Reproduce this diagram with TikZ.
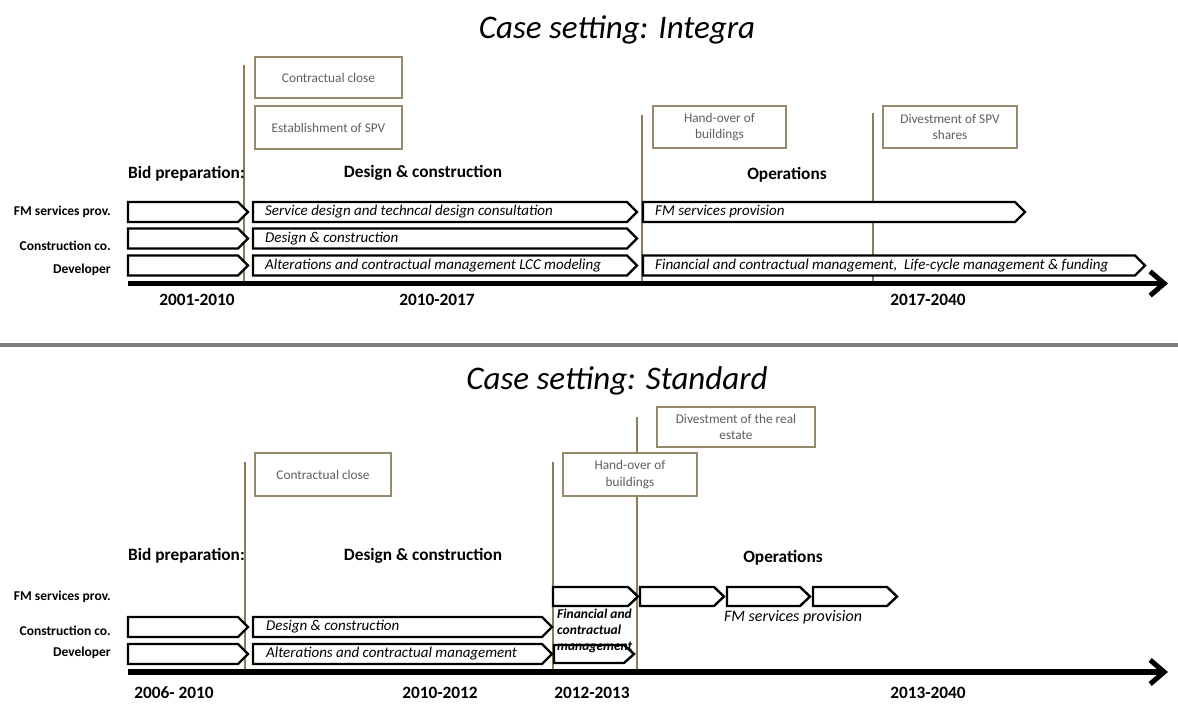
\documentclass[tikz,border=0pt]{standalone}
\usepackage{fontspec}
\setmainfont{Carlito}
\usetikzlibrary{arrows.meta}
\definecolor{boxc}{RGB}{150,138,110}
\definecolor{vlc}{RGB}{140,125,90}
\definecolor{boxt}{RGB}{95,95,95}
\definecolor{sepc}{RGB}{125,125,125}
\newcommand\chevron[4]{%
  \draw[chev] (#1,#3) -- ({#2-10},#3) -- (#2,{(#3+#4)/2}) -- ({#2-10},#4) -- (#1,#4) -- cycle;}
\begin{document}
\begin{tikzpicture}[x=1pt,y=-1pt,
  chev/.style={draw=black, line width=2.4pt, fill=white, line join=miter},
  mbox/.style={draw=boxc, line width=1.3pt, fill=white, text=boxt, align=center, inner sep=0pt,
    font=\fontsize{13.3}{16.5}\selectfont},
  vline/.style={draw=vlc, line width=1.4pt},
  ttl/.style={font=\fontsize{33}{38}\selectfont\itshape},
  phase/.style={font=\fontsize{17.3}{20}\selectfont\bfseries, inner sep=0pt},
  rowlab/.style={font=\fontsize{13.5}{16}\selectfont\bfseries, anchor=east, inner sep=0pt},
  atext/.style={font=\fontsize{15}{18}\selectfont\itshape, anchor=west, inner sep=0pt},
  year/.style={font=\fontsize{17.3}{20}\selectfont\bfseries, inner sep=0pt},
  axis/.style={line width=5.5pt, -{Straight Barb[length=14pt,width=24pt,line width=5pt]}}
]
\useasboundingbox (0,0) rectangle (1178,704);

% ================= TOP: Integra =================
\node[ttl] (t1) at (617,30) {Case setting: Integra};

\draw[vline] (244,65) -- (244,286);
\draw[vline] (642,115) -- (642,286);
\draw[vline] (873,113) -- (873,286);

\node[mbox, minimum width=147pt, minimum height=41pt] (cc1) at (328.5,77.5) {Contractual close};
\node[mbox, minimum width=147pt, minimum height=43pt] (spv1) at (328.5,127.5) {Establishment of SPV};
\node[mbox, minimum width=133pt, minimum height=42pt] (ho1) at (719.5,127) {Hand-over of\\buildings};
\node[mbox, minimum width=134pt, minimum height=42pt] (dv1) at (950,127) {Divestment of SPV\\shares};

\node[phase, anchor=west] (bp1) at (128,174) {Bid preparation:};
\node[phase] (dc1) at (423,173) {Design \& construction};
\node[phase] (op1) at (787,175) {Operations};

\node[rowlab] (fm1) at (111,212) {FM services prov.};
\node[rowlab] (co1) at (111,246) {Construction co.};
\node[rowlab] (de1) at (111,270) {Developer};

\chevron{128}{248}{202}{222}
\chevron{128}{248}{228.5}{248.5}
\chevron{128}{248}{255.5}{275.5}
\chevron{253}{637}{202}{222}
\chevron{253}{637}{228.5}{248.5}
\chevron{253}{637}{255.5}{275.5}
\chevron{643}{1025}{202}{222}
\chevron{643}{1145}{255.5}{275.5}

\node[atext] (a11) at (265,212) {Service design and techncal design consultation};
\node[atext] (a12) at (265,238.5) {Design \& construction};
\node[atext] (a13) at (265,265.5) {Alterations and contractual management LCC modeling};
\node[atext] (a14) at (655,212) {FM services provision};
\node[atext] (a15) at (655,265.5) {Financial and contractual management,\ \ Life-cycle management \& funding};

\coordinate (ax1s) at (128,283.5);
\coordinate (ax1e) at (1168,283.5);
\draw[axis] (ax1s) -- (ax1e);

\node[year] (y11) at (197,300) {2001-2010};
\node[year] (y12) at (437,300) {2010-2017};
\node[year] (y13) at (928,300) {2017-2040};

% separator
\coordinate (sepL) at (0,345);
\coordinate (sepR) at (1178,345);
\draw[sepc, line width=4pt] (sepL) -- (sepR);

% ================= BOTTOM: Standard =================
\node[ttl] (t2) at (617,381) {Case setting: Standard};

\draw[vline] (245,462) -- (245,675);
\draw[vline] (553,462) -- (553,675);
\draw[vline] (637,417) -- (637,675);

\node[mbox, minimum width=158pt, minimum height=40pt] (dv2) at (736,427) {Divestment of the real\\estate};
\node[mbox, minimum width=134pt, minimum height=43pt] (ho2) at (630,474.5) {Hand-over of\\buildings};
\node[mbox, minimum width=136pt, minimum height=43pt] (cc2) at (323,474.5) {Contractual close};

\node[phase, anchor=west] (bp2) at (128,556) {Bid preparation:};
\node[phase] (dc2) at (423,556) {Design \& construction};
\node[phase] (op2) at (783,558) {Operations};

\node[rowlab] (fm2) at (111,597) {FM services prov.};
\node[rowlab] (co2) at (111,631) {Construction co.};
\node[rowlab] (de2) at (111,653) {Developer};

\chevron{553}{638}{587}{606}
\chevron{640}{724}{587}{606}
\chevron{727}{810}{587}{606}
\chevron{813}{897}{587}{606}
\chevron{128}{248}{617}{637}
\chevron{253}{552}{617}{637}
\chevron{128}{248}{644}{664}
\chevron{253}{552}{644}{664}
\chevron{554}{634}{645}{663}

\node[atext] (a21) at (266,627) {Design \& construction};
\node[atext] (a22) at (266,654) {Alterations and contractual management};
\node[font=\fontsize{13.5}{16}\selectfont\bfseries\itshape, anchor=north west, align=left, inner sep=0pt] (fcm) at (557,609) {Financial and\\contractual\\management};
\node[font=\fontsize{16}{19}\selectfont\itshape, inner sep=0pt] (fms2) at (793,617) {FM services provision};

\coordinate (ax2s) at (128,672);
\coordinate (ax2e) at (1168,672);
\draw[axis] (ax2s) -- (ax2e);

\node[year] (y21) at (174,693) {2006- 2010};
\node[year] (y22) at (440,693) {2010-2012};
\node[year] (y23) at (592,693) {2012-2013};
\node[year] (y24) at (928,693) {2013-2040};
\end{tikzpicture}
\end{document}
